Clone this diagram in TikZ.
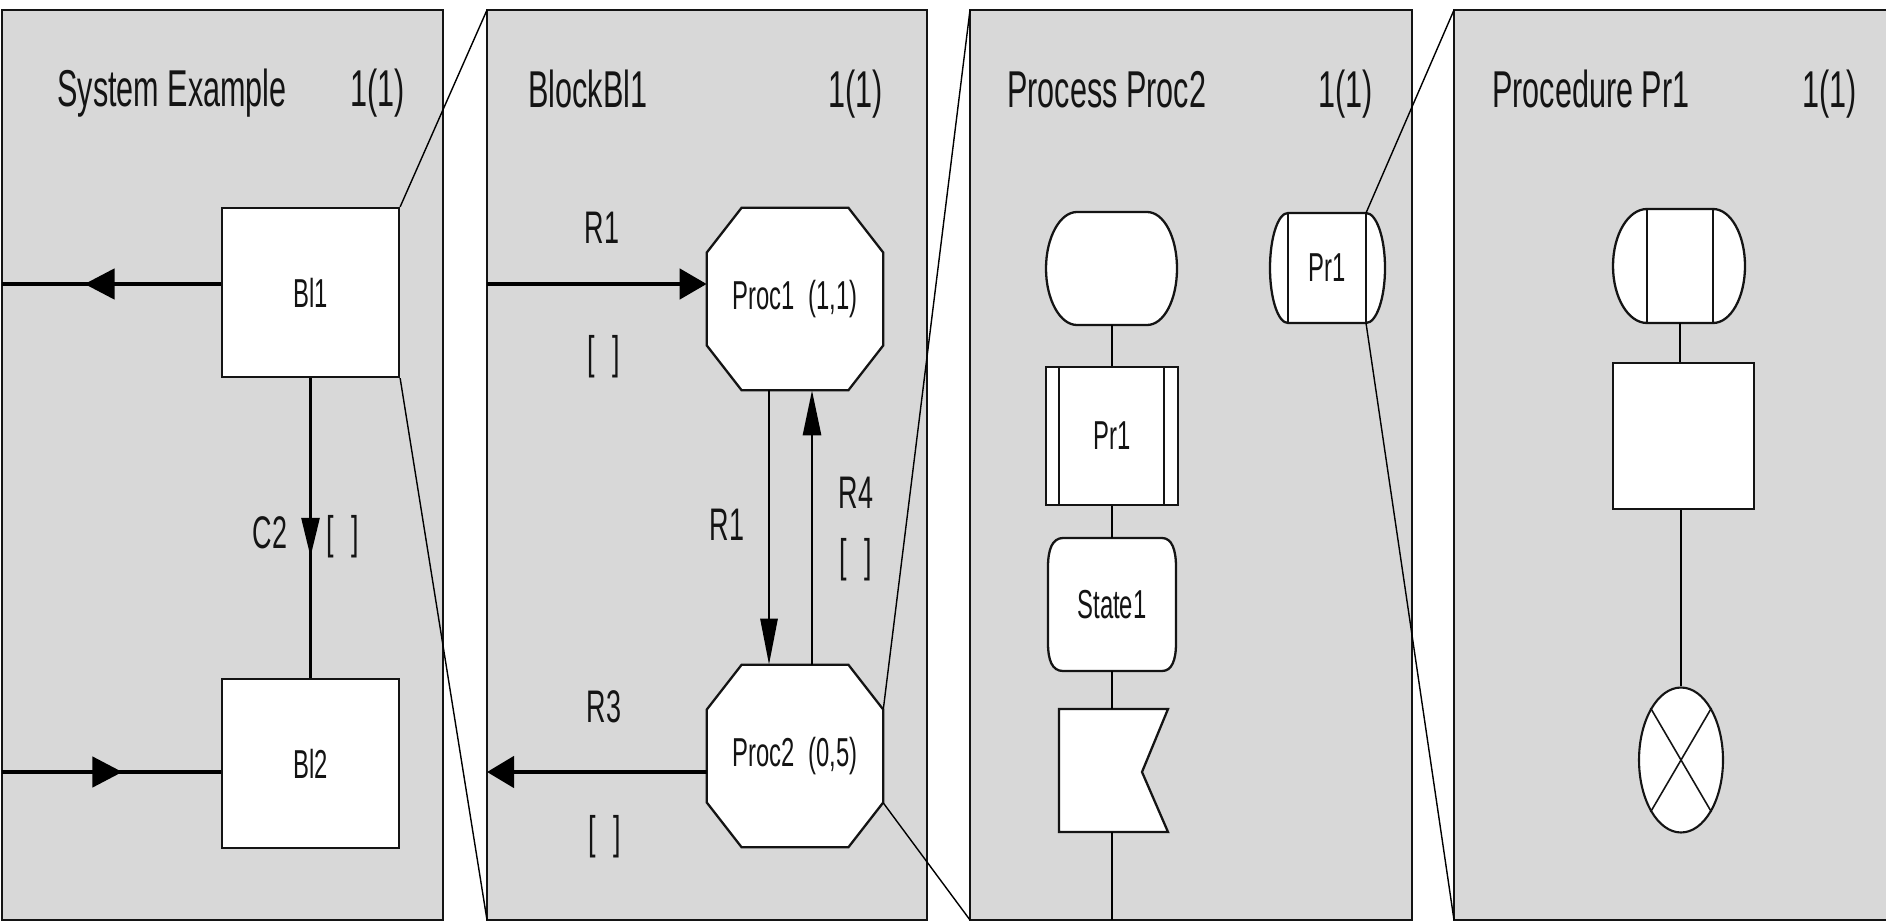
\documentclass[tikz,border=0pt]{standalone}
\usepackage{fontspec}
\setmainfont{Liberation Sans}[FakeStretch=0.59]
\usetikzlibrary{arrows.meta,decorations.markings,shapes.geometric,calc}
\definecolor{panelgray}{RGB}{216,216,216}
\definecolor{ink}{RGB}{20,20,20}
\begin{document}
\begin{tikzpicture}[x=0.02cm,y=-0.02cm,
  panel/.style={draw=ink,fill=panelgray,line width=1.1pt},
  title/.style={inner sep=0pt,text=ink,font=\fontsize{29.5}{30}\selectfont},
  lbl/.style={inner sep=0pt,text=ink,font=\fontsize{26}{27}\selectfont},
  box/.style={draw=ink,fill=white,line width=1.3pt,inner sep=0pt,text=ink,font=\fontsize{23}{24}\selectfont},
  sym/.style={draw=ink,fill=white,line width=1.3pt},
  symline/.style={draw=ink,line width=1.1pt},
  ghost/.style={inner sep=0pt,draw=none,text=ink,font=\fontsize{23}{24}\selectfont},
  chan/.style={draw=black,line width=2.6pt},
  conn/.style={draw=black,line width=1.6pt},
  zoomline/.style={draw=black,line width=0.8pt},
  midh/.style={postaction={decorate},decoration={markings,
    mark=at position #1 with {\arrow{Triangle[length=0.6cm,width=0.6cm]}}}},
  midv/.style={postaction={decorate},decoration={markings,
    mark=at position #1 with {\arrow{Triangle[length=0.78cm,width=0.36cm]}}}}
]
\useasboundingbox (0,0) rectangle (1886,922);
\fill[white] (0,0) rectangle (1886,922);

% ---------------- panels
\draw[panel] (2,10) rectangle (443,920);
\draw[panel] (487,10) rectangle (927,920);
\draw[panel] (970,10) rectangle (1412,920);
\draw[panel] (1454,10) rectangle (1895,920);

\coordinate (p2tl) at (487,10);
\coordinate (p2bl) at (487,920);
\coordinate (p3tl) at (970,10);
\coordinate (p3bl) at (970,920);
\coordinate (p4tl) at (1454,10);
\coordinate (p4bl) at (1454,920);

% ---------------- panel 1 : System Example
\node[title,anchor=base west] (t1) at (57,107) {System Example};
\node[title,anchor=base east] (n1) at (405,107) {1(1)};
\node[box,minimum width=3.54cm,minimum height=3.38cm] (bl1) at (310.5,292.5) {Bl1};
\node[box,minimum width=3.54cm,minimum height=3.38cm] (bl2) at (310.5,763.5) {Bl2};
\coordinate (e1) at (2,284);
\coordinate (e2) at (2,772);
\draw[chan,midh=0.623] (e1 -| bl1.west) -- (e1);
\draw[chan,midh=0.55] (e2) -- (e2 -| bl2.west);
\draw[conn,midv=0.596] (bl1.south) -- (bl2.north);
\node[lbl] (c2) at (270,533) {C2};
\node[lbl] (c2s) at (343,537) {[\hspace{10pt}]};

% ---------------- panel 2 : BlockBl1
\node[title,anchor=base west] (t2) at (528,108) {BlockBl1};
\node[title,anchor=base east] (n2) at (883,108) {1(1)};
\node[ghost,minimum width=3.52cm,minimum height=3.64cm] (pr1) at (795,299) {};
\node[ghost,minimum width=3.52cm,minimum height=3.64cm] (pr2) at (795,756) {};
\foreach \p in {pr1,pr2}{
  \draw[sym] ($(\p.north west)+(35,0)$) -- ($(\p.north east)+(-35,0)$) -- ($(\p.north east)+(0,45)$)
    -- ($(\p.south east)+(0,-45)$) -- ($(\p.south east)+(-35,0)$) -- ($(\p.south west)+(35,0)$)
    -- ($(\p.south west)+(0,-45)$) -- ($(\p.north west)+(0,45)$) -- cycle;
}
\node[ghost] (pr1t) at (pr1.center) {Proc1\hspace{8pt}(1,1)};
\node[ghost] (pr2t) at (pr2.center) {Proc2\hspace{8pt}(0,5)};
\coordinate (e3) at (487,284);
\coordinate (e4) at (487,772);
\draw[chan,-{Triangle[length=0.54cm,width=0.6cm]}] (e3) -- (e3 -| pr1.west);
\draw[chan,-{Triangle[length=0.54cm,width=0.62cm]}] (e4 -| pr2.west) -- (e4);
\draw[conn,-{Triangle[length=0.92cm,width=0.34cm]}] ([xshift=-0.52cm]pr1.south) -- ([xshift=-0.52cm]pr2.north);
\draw[conn,-{Triangle[length=0.9cm,width=0.36cm]}] ([xshift=0.34cm]pr2.north) -- ([xshift=0.34cm]pr1.south);
\node[lbl] (r1a) at (602,228) {R1};
\node[lbl] (b1) at (604,357) {[\hspace{10pt}]};
\node[lbl] (r1b) at (727,525) {R1};
\node[lbl] (r4) at (856,493) {R4};
\node[lbl] (b4) at (856,560) {[\hspace{10pt}]};
\node[lbl] (r3) at (604,707) {R3};
\node[lbl] (b3) at (605,837) {[\hspace{10pt}]};

% ---------------- panel 3 : Process Proc2
\node[title,anchor=base west] (t3) at (1007,108) {Process Proc2};
\node[title,anchor=base east] (n3) at (1373,108) {1(1)};
% start symbol
\draw[sym] (1077,212) -- (1147,212) .. controls (1164,212) and (1177,237.3) .. (1177,268.5)
  .. controls (1177,299.7) and (1164,325) .. (1147,325) -- (1077,325)
  .. controls (1060,325) and (1046,299.7) .. (1046,268.5)
  .. controls (1046,237.3) and (1060,212) .. (1077,212) -- cycle;
\node[ghost,minimum width=2.62cm,minimum height=2.26cm] (st) at (1112,268.5) {};
% procedure call
\node[box,minimum width=2.64cm,minimum height=2.76cm] (call) at (1112,436) {Pr1};
\draw[symline] (1059,367) -- (1059,505);
\draw[symline] (1164,367) -- (1164,505);
% state
\draw[sym] (1063,538) -- (1162,538) .. controls (1172,538) and (1176,550) .. (1176,567)
  -- (1176,643) .. controls (1176,660) and (1172,671) .. (1162,671) -- (1063,671)
  .. controls (1052,671) and (1048,660) .. (1048,643) -- (1048,567)
  .. controls (1048,550) and (1052,538) .. (1063,538) -- cycle;
\node[ghost,minimum width=2.56cm,minimum height=2.66cm] (state) at (1112,604.5) {State1};
% output
\draw[sym] (1059,709) -- (1168,709) -- (1142,772) -- (1168,832) -- (1059,832) -- cycle;
\node[ghost,minimum width=2.18cm,minimum height=2.46cm] (out) at (1112,770.5) {};
\coordinate (e5) at (1112,920);
\draw[conn] (st.south) -- (call.north);
\draw[conn] (call.south) -- (state.north);
\draw[conn] (state.south) -- (out.north);
\draw[conn] (out.south) -- (e5);
% procedure reference
\draw[sym] (1288,213) -- (1366,213) .. controls (1376.5,213) and (1385,237.6) .. (1385,268)
  .. controls (1385,298.4) and (1376.5,323) .. (1366,323) -- (1288,323)
  .. controls (1278,323) and (1270,298.4) .. (1270,268)
  .. controls (1270,237.6) and (1278,213) .. (1288,213) -- cycle;
\draw[symline] (1288,213) -- (1288,323);
\draw[symline] (1366,213) -- (1366,323);
\node[ghost,minimum width=1.56cm,minimum height=2.2cm] (ref) at (1327,268) {Pr1};

% ---------------- panel 4 : Procedure Pr1
\node[title,anchor=base west] (t4) at (1492,108) {Procedure Pr1};
\node[title,anchor=base east] (n4) at (1857,108) {1(1)};
\draw[sym] (1647,209) -- (1713,209) .. controls (1730.7,209) and (1745,234.5) .. (1745,266)
  .. controls (1745,297.5) and (1730.7,323) .. (1713,323) -- (1647,323)
  .. controls (1628.2,323) and (1613,297.5) .. (1613,266)
  .. controls (1613,234.5) and (1628.2,209) .. (1647,209) -- cycle;
\draw[symline] (1647,209) -- (1647,323);
\draw[symline] (1713,209) -- (1713,323);
\node[ghost,minimum width=1.32cm,minimum height=2.28cm] (pst) at (1680,266) {};
\node[box,minimum width=2.82cm,minimum height=2.92cm] (pbox) at (1683.5,436) {};
\node[ellipse,draw=ink,fill=white,line width=1.2pt,minimum width=1.68cm,minimum height=2.9cm,inner sep=0pt] (stop) at (1681,760) {};
\draw[symline,line width=0.9pt] (stop.north west) -- (stop.south east);
\draw[symline,line width=0.9pt] (stop.north east) -- (stop.south west);
\draw[conn] (pst.south) -- (pst.south |- pbox.north);
\draw[conn] (pbox.south -| stop.north) -- (stop.north);

% ---------------- zoom lines
\draw[zoomline] (bl1.north east) -- (p2tl);
\draw[zoomline] (bl1.south east) -- (p2bl);
\draw[zoomline] ($(pr2.east)+(0,-47)$) -- (p3tl);
\draw[zoomline] ($(pr2.east)+(0,47)$) -- (p3bl);
\draw[zoomline] (1366,213) -- (p4tl);
\draw[zoomline] (1366,323) -- (p4bl);
\end{tikzpicture}
\end{document}
